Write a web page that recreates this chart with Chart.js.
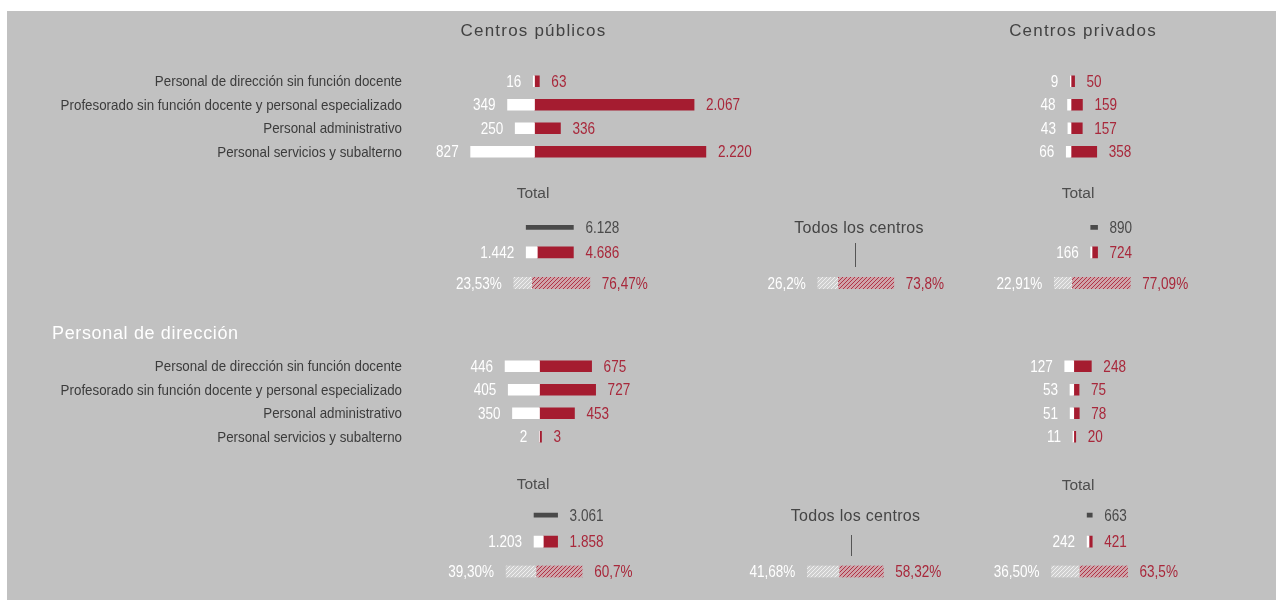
<!DOCTYPE html>
<html lang="es">
<head>
<meta charset="utf-8">
<title>Personal no docente y personal de dirección</title>
<script src="https://cdn.jsdelivr.net/npm/chart.js@4.4.1/dist/chart.umd.min.js"></script>
<style>
  html, body { margin: 0; padding: 0; background: #ffffff; }
  #stage { position: relative; width: 1276px; height: 600px; overflow: hidden; }
  #panel { position: absolute; left: 7px; top: 11px; right: 0; bottom: 0; background: #c1c1c1; }
  #stage canvas { position: absolute; left: 0; top: 0; }
  .txt { position: absolute; white-space: nowrap; line-height: 1; }
  .center { transform: translate(-50%, -50%); }
  .left { transform: translate(0, -50%); }
  .right { transform-origin: 100% 50%; transform: translate(-100%, -50%) scaleX(0.89); }
  .cat { font: 15px "Liberation Sans", Arial, sans-serif; color: #3c3c3c; }
  .head { font: 17px "Liberation Sans", Arial, sans-serif; color: #424242; letter-spacing: 1.2px; }
  .sub { font: 15.5px "Liberation Sans", Arial, sans-serif; color: #4d4d4d; }
  .all { font: 16px "Liberation Sans", Arial, sans-serif; color: #454545; letter-spacing: 0.3px; }
  .section { font: 18px "Liberation Sans", Arial, sans-serif; color: #ffffff; letter-spacing: 0.65px; }
  .tick { position: absolute; width: 1px; background: #555555; }
</style>
</head>
<body>
<div id="stage"><div id="panel"></div></div>
<script>
// ---- Categories and headings ----
const categories = [
  'Personal de dirección sin función docente',
  'Profesorado sin función docente y personal especializado',
  'Personal administrativo',
  'Personal servicios y subalterno'
];
const columnTitles = ['Centros públicos', 'Centros privados'];
const sectionTitle = 'Personal de dirección';
const totalTitle = 'Total';
const allCentresTitle = 'Todos los centros';

// ---- Upper block: white = left value, red = right value ----
const pubTopWhite = [16, 349, 250, 827];
const pubTopRed = [63, 2067, 336, 2220];
const privTopWhite = [9, 48, 43, 66];
const privTopRed = [50, 159, 157, 358];
// totals [público, privado]
const topTotals = [6128, 890];
const topTotalsWhite = [1442, 166];
const topTotalsRed = [4686, 724];
// shares [público, todos los centros, privado]
const topPctWhite = ['23,53', '26,2', '22,91'];
const topPctRed = ['76,47', '73,8', '77,09'];

// ---- Lower block: personal de dirección ----
const pubBotWhite = [446, 405, 350, 2];
const pubBotRed = [675, 727, 453, 3];
const privBotWhite = [127, 53, 51, 11];
const privBotRed = [248, 75, 78, 20];
const botTotals = [3061, 663];
const botTotalsWhite = [1203, 242];
const botTotalsRed = [1858, 421];
const botPctWhite = ['39,30', '41,68', '36,50'];
const botPctRed = ['60,7', '58,32', '63,5'];

// ---- Styling ----
const W = 1276, H = 600;
const RED = '#a51c30';
const RED_TEXT = '#a8283b';
const WHITE = '#ffffff';
const DARK = '#4a4a4a';
const NUM_FONT = '16.5px "Liberation Sans", Arial, sans-serif';
const NUM_SQUEEZE = 0.82;  // condensed look for figures
const LABEL_GAP = 12;
const PX_ROW = 0.0772;   // px per person, category rows
const PX_TOT = 0.0077;   // px per person, totals
const PX_PCT = 0.76;     // px per percentage point

const fmtInt = n => String(n).replace(/\B(?=(\d{3})+(?!\d))/g, '.');
const pctVal = s => parseFloat(s.replace(',', '.'));

function hatch(base, line) {
  const c = document.createElement('canvas');
  c.width = 4; c.height = 4;
  const g = c.getContext('2d');
  g.fillStyle = base; g.fillRect(0, 0, 4, 4);
  g.strokeStyle = line; g.lineWidth = 1;
  g.beginPath();
  g.moveTo(0, 4); g.lineTo(4, 0);
  g.moveTo(-1, 1); g.lineTo(1, -1);
  g.moveTo(3, 5); g.lineTo(5, 3);
  g.stroke();
  return g.createPattern(c, 'repeat');
}
const HATCH_WHITE = hatch('#cfcfcf', '#f0f0f0');
const HATCH_RED = hatch('#cfa4aa', '#b03446');

// Draws each dataset's value text beside its bar end
const valueLabels = {
  id: 'valueLabels',
  afterDatasetsDraw(chart) {
    const ctx = chart.ctx;
    chart.data.datasets.forEach((ds, di) => {
      if (!ds.labelText) return;
      const meta = chart.getDatasetMeta(di);
      meta.data.forEach((el, i) => {
        const txt = ds.labelText[i];
        if (txt == null) return;
        const p = el.getProps(['x', 'y', 'base'], true);
        const lo = Math.min(p.x, p.base), hi = Math.max(p.x, p.base);
        const left = ds.labelSide === 'left';
        ctx.save();
        ctx.font = NUM_FONT;
        ctx.fillStyle = ds.labelColor;
        ctx.textBaseline = 'middle';
        ctx.textAlign = left ? 'right' : 'left';
        ctx.translate(left ? lo - LABEL_GAP : hi + LABEL_GAP, p.y + 1);
        ctx.scale(NUM_SQUEEZE, 1);
        ctx.fillText(txt, 0, 0);
        ctx.restore();
      });
    });
  }
};

const stage = document.getElementById('stage');

// One chart per block; its plot area sits inside a full-size transparent canvas
function block({zero, px, span, top, bottom, rows, datasets}) {
  const canvas = document.createElement('canvas');
  canvas.width = W; canvas.height = H;
  stage.appendChild(canvas);
  const left = zero - span, right = zero + span;
  return new Chart(canvas, {
    type: 'bar',
    data: { labels: rows, datasets },
    options: {
      indexAxis: 'y',
      responsive: false,
      animation: false,
      events: [],
      layout: { padding: { left, right: W - right, top, bottom: H - bottom } },
      datasets: { bar: { grouped: false, borderWidth: 0, borderSkipped: false } },
      scales: {
        x: { type: 'linear', display: false, min: -(zero - left) / px, max: (right - zero) / px },
        y: { type: 'category', display: false }
      },
      plugins: { legend: { display: false }, tooltip: { enabled: false } }
    },
    plugins: [valueLabels]
  });
}

function rowsBlock(zero, top, bottom, white, red) {
  return block({
    zero, px: PX_ROW, span: 220, top, bottom, rows: categories,
    datasets: [
      { data: white.map(v => -v), backgroundColor: WHITE, barThickness: 11,
        labelText: white.map(fmtInt), labelSide: 'left', labelColor: WHITE },
      { data: red, backgroundColor: RED, barThickness: 11, minBarLength: 2,
        labelText: red.map(fmtInt), labelSide: 'right', labelColor: RED_TEXT }
    ]
  });
}

function totalBlock(zero, top, bottom, total, white, red) {
  return block({
    zero, px: PX_TOT, span: 120, top, bottom, rows: ['total', 'reparto'],
    datasets: [
      { data: [[-white, total - white], null], backgroundColor: DARK, barThickness: 4,
        labelText: [fmtInt(total), null], labelSide: 'right', labelColor: DARK },
      { data: [null, -white], backgroundColor: WHITE, barThickness: 11,
        labelText: [null, fmtInt(white)], labelSide: 'left', labelColor: WHITE },
      { data: [null, red], backgroundColor: RED, barThickness: 11,
        labelText: [null, fmtInt(red)], labelSide: 'right', labelColor: RED_TEXT }
    ]
  });
}

function pctBlock(zero, top, bottom, white, red) {
  return block({
    zero, px: PX_PCT, span: 120, top, bottom, rows: ['%'],
    datasets: [
      { data: [-pctVal(white)], backgroundColor: HATCH_WHITE, barThickness: 12,
        labelText: [white + '%'], labelSide: 'left', labelColor: WHITE },
      { data: [pctVal(red)], backgroundColor: HATCH_RED, barThickness: 12,
        labelText: [red + '%'], labelSide: 'right', labelColor: RED_TEXT }
    ]
  });
}

// ---- Upper block ----
const TOP_ROWS = [69.5, 163.5];
rowsBlock(534.5, TOP_ROWS[0], TOP_ROWS[1], pubTopWhite, pubTopRed);
rowsBlock(1086, TOP_ROWS[0], TOP_ROWS[1], privTopWhite, privTopRed);
totalBlock(537.3, 214.8, 264.8, topTotals[0], topTotalsWhite[0], topTotalsRed[0]);
totalBlock(1092, 214.8, 264.8, topTotals[1], topTotalsWhite[1], topTotalsRed[1]);
[531.7, 837.7, 1071.7].forEach((z, i) => pctBlock(z, 277, 289, topPctWhite[i], topPctRed[i]));

// ---- Lower block ----
const BOT_ROWS = [354.5, 448.5];
rowsBlock(539.5, BOT_ROWS[0], BOT_ROWS[1], pubBotWhite, pubBotRed);
rowsBlock(1091.5, BOT_ROWS[0], BOT_ROWS[1], privBotWhite, privBotRed);
totalBlock(543.3, 501.8, 554.8, botTotals[0], botTotalsWhite[0], botTotalsRed[0]);
totalBlock(1089, 501.8, 554.8, botTotals[1], botTotalsWhite[1], botTotalsRed[1]);
[536, 839, 1079.3].forEach((z, i) => pctBlock(z, 565.5, 577.5, botPctWhite[i], botPctRed[i]));

// ---- Text ----
function text(str, cls, align, x, y) {
  const d = document.createElement('div');
  d.className = 'txt ' + cls + ' ' + align;
  d.style.left = x + 'px';
  d.style.top = y + 'px';
  d.textContent = str;
  stage.appendChild(d);
}
function tick(x, y0, y1) {
  const d = document.createElement('div');
  d.className = 'tick';
  d.style.left = x + 'px';
  d.style.top = y0 + 'px';
  d.style.height = (y1 - y0) + 'px';
  stage.appendChild(d);
}

text(columnTitles[0], 'head', 'center', 533.5, 31);
text(columnTitles[1], 'head', 'center', 1083, 31);
[TOP_ROWS, BOT_ROWS].forEach(([t, b]) => {
  const h = (b - t) / categories.length;
  categories.forEach((c, i) => text(c, 'cat', 'right', 402, t + (i + 0.5) * h - 1));
});
text(totalTitle, 'sub', 'center', 533, 193);
text(totalTitle, 'sub', 'center', 1078, 193);
text(allCentresTitle, 'all', 'center', 859, 228);
tick(855, 243, 267);
text(sectionTitle, 'section', 'left', 52, 333);
text(totalTitle, 'sub', 'center', 533, 484);
text(totalTitle, 'sub', 'center', 1078, 485);
text(allCentresTitle, 'all', 'center', 855.5, 516);
tick(851, 535, 556);
</script>
</body>
</html>
